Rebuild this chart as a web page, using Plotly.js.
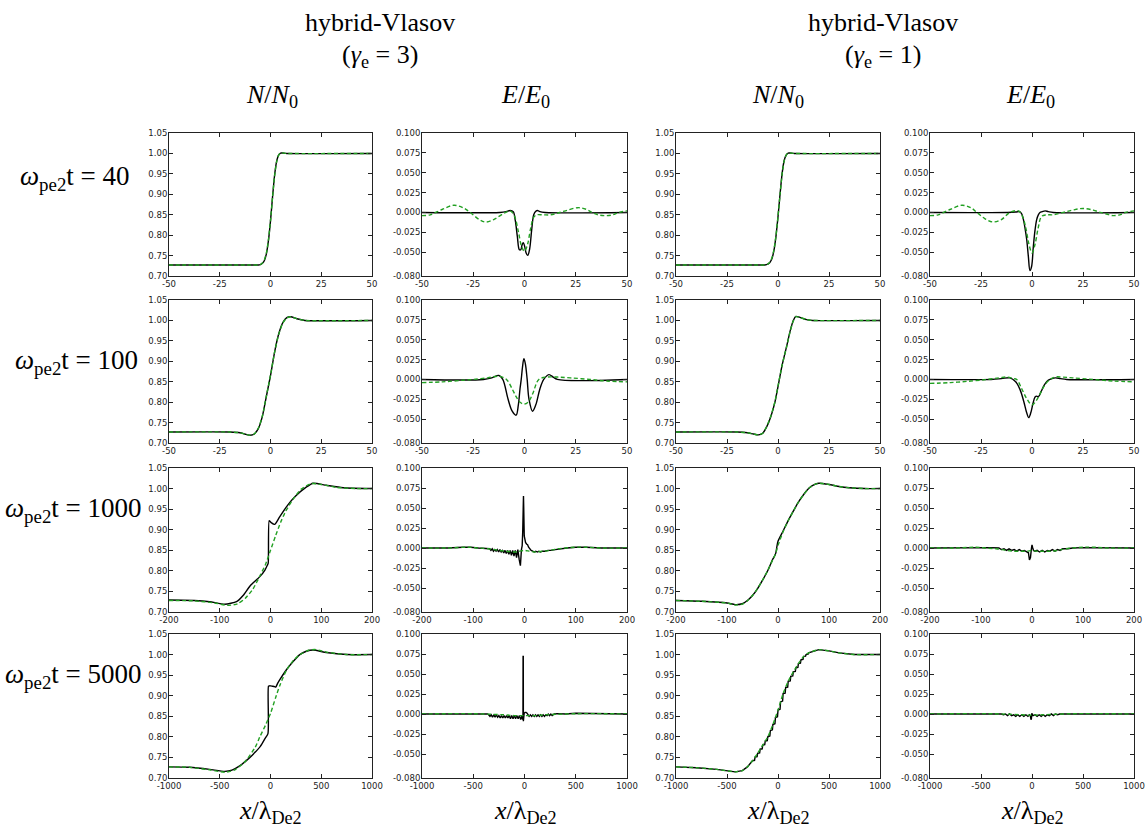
<!DOCTYPE html>
<html><head><meta charset="utf-8">
<script src="https://cdn.plot.ly/plotly-3.0.1.min.js"></script>
<style>html,body{margin:0;padding:0;background:#fff}#chart{width:1148px;height:832px}</style>
</head><body><div id="chart"></div>
<script>
// ---------------- tick labels ----------------
const nTickVals = [0.70,0.75,0.80,0.85,0.90,0.95,1.00,1.05];
const nTickText = ["0.70","0.75","0.80","0.85","0.90","0.95","1.00","1.05"];
const eTickVals = [-0.08,-0.05,-0.025,0,0.025,0.05,0.075,0.1];
const eTickText = ["-0.080","-0.050","-0.025","0.000","0.025","0.050","0.075","0.100"];
const xTickVals50 = [-50,-25,0,25,50];
const xTickText50 = ["-50","-25","0","25","50"];
const xTickVals200 = [-200,-100,0,100,200];
const xTickText200 = ["-200","-100","0","100","200"];
const xTickVals1000 = [-1000,-500,0,500,1000];
const xTickText1000 = ["-1000","-500","0","500","1000"];

const rowLabels = ["40","100","1000","5000"];
const colGammas = ["3","1"];

// ---------------- gamma_e = 3 ----------------
// t = 40, N
const nG3T40x   = [-50,-10,-6,-5,-4,-3,-2,-1,0,1,2,3,4,5,6,8,50];
const nG3T40sim = [0.727,0.727,0.727,0.728,0.731,0.738,0.755,0.787,0.835,0.893,0.946,0.980,0.996,1.001,1.001,1.000,1.000];
const nG3T40flu = [0.727,0.727,0.727,0.728,0.732,0.740,0.757,0.789,0.836,0.892,0.944,0.979,0.996,1.001,1.001,1.000,1.000];
// t = 40, E
const eG3T40simX = [-50,-12,-9,-7,-5.5,-4.5,-3.5,-2.5,-1.8,-1.2,-0.6,0,0.8,1.6,2.5,3.5,4.5,5.5,6.3,7.5,10,50];
const eG3T40simY = [0,0,0.001,0.0025,0.001,-0.010,-0.030,-0.047,-0.047,-0.041,-0.038,-0.042,-0.051,-0.054,-0.046,-0.022,-0.003,0.0015,0.0025,0.001,0,0];
const eG3T40fluX = [-50,-46,-40,-34.5,-30,-26.5,-22,-19,-15,-10,-7,-5,-3,-1.5,0,1.5,3,4.5,6,9,12.7,16,20,26,30,33,36,39.5,43,46,50];
const eG3T40fluY = [-0.004,-0.003,0.004,0.009,0.006,0,-0.009,-0.012,-0.009,-0.001,0.002,-0.004,-0.024,-0.042,-0.049,-0.040,-0.020,-0.006,-0.003,-0.003,-0.003,-0.001,0.002,0.006,0.004,0,-0.003,-0.004,-0.003,0,0.002];
// t = 100, N
const nG3T100x   = [-50,-20,-15,-12,-10,-8,-6,-4,-2,0,2,4,6,8,10,13,17,50];
const nG3T100sim = [0.727,0.727,0.725,0.721,0.719,0.722,0.735,0.765,0.815,0.865,0.922,0.966,0.994,1.007,1.009,1.004,1.000,1.000];
const nG3T100flu = [0.727,0.727,0.725,0.721,0.719,0.722,0.736,0.766,0.816,0.866,0.922,0.965,0.993,1.006,1.009,1.004,1.000,1.000];
// t = 100, E
const eG3T100simX = [-50,-20,-16,-12.5,-10.6,-8,-6,-4.1,-3,-2.2,-1.6,-1,-0.3,0.4,1.3,2.2,3.9,5.5,7.5,9.4,11.9,14,16,50];
const eG3T100simY = [0,0,0.002,0.005,0,-0.025,-0.040,-0.045,-0.032,-0.012,0,0.015,0.026,0.020,0,-0.025,-0.040,-0.032,-0.012,0,0.006,0.003,0,0];
const eG3T100fluX = [-50,-40,-30,-25,-18,-12.5,-8.8,-6,-4,-2,0,2,4,7,11,16,22.4,32,40,50];
const eG3T100fluY = [-0.004,-0.003,-0.001,0,0.002,0.004,0,-0.012,-0.022,-0.029,-0.031,-0.028,-0.018,0,0.003,0.003,0.002,0,-0.002,-0.003];
// t = 1000, N
const nG3T1000simX = [-200,-150,-120,-90,-67,-54,-40,-21,-11,-6.5,-4.6,-2.6,0.7,8.5,18,31,48,71,84,110,143,200];
const nG3T1000simY = [0.729,0.728,0.725,0.719,0.725,0.740,0.764,0.786,0.802,0.813,0.818,0.922,0.918,0.913,0.931,0.955,0.980,1.004,1.013,1.008,1.002,1.000];
const nG3T1000fluX = [-200,-150,-110,-85,-65,-50,-35,-20,-10,0,10,20,30,45,60,80,100,130,170,200];
const nG3T1000fluY = [0.728,0.727,0.722,0.716,0.720,0.733,0.755,0.790,0.815,0.850,0.885,0.918,0.945,0.975,0.998,1.012,1.010,1.003,1.000,1.000];
// t = 1000, E
const eG3T1000simX = [-200,-150,-120,-105,-90,-75,-68,-65.5,-63,-60.5,-58,-55.5,-53,-50.5,-48,-45.5,-43,-40.5,-38,-35.5,-33,-30.5,-28,-25.5,-23,-20.5,-18,-15.5,-13,-10.5,-8,-6,-4.5,-3.5,-2.5,-2,-1.5,-0.5,0.5,2,4,6,8,10,13,16,19,22,25,28,31,35,40,46,51,60,70,83,100,120,150,200];
const eG3T1000simY = [0,0,0.001,0.001,0,-0.001,-0.001,-0.003,-0.001,-0.004,-0.002,-0.004,-0.002,-0.005,-0.002,-0.005,-0.003,-0.006,-0.003,-0.007,-0.003,-0.008,-0.003,-0.009,-0.003,-0.010,-0.003,-0.012,-0.002,-0.014,-0.022,-0.002,0.003,0.020,0.060,0.065,0.050,0.015,0.009,0.007,0.005,0.004,0.001,-0.001,-0.003,-0.004,-0.005,-0.004,-0.005,-0.004,-0.005,-0.004,-0.004,-0.003,-0.003,-0.002,-0.001,0,0.001,0.001,0,0];
const eG3T1000fluX = [-200,-150,-110,-90,-70,-50,-35,-20,-10,0,10,20,35,50,65,80,100,120,150,200];
const eG3T1000fluY = [0,0,0.001,0,-0.001,-0.003,-0.004,-0.005,-0.004,-0.003,-0.004,-0.005,-0.004,-0.003,-0.001,0,0.001,0.001,0,0];
// t = 5000, N
const nG3T5000simX = [-1000,-800,-600,-450,-380,-300,-230,-170,-100,-56,-25,-20,-10,0,20,40,52,70,92,157,223,289,354,420,550,750,1000];
const nG3T5000simY = [0.727,0.726,0.721,0.716,0.719,0.730,0.744,0.758,0.777,0.795,0.808,0.923,0.924,0.924,0.923,0.922,0.921,0.930,0.939,0.963,0.983,1.000,1.008,1.011,1.005,1.000,1.000];
const nG3T5000fluX = [-1000,-800,-600,-450,-350,-250,-150,-105,-50,0,50,92,157,223,290,380,450,550,750,1000];
const nG3T5000fluY = [0.727,0.726,0.720,0.714,0.720,0.740,0.775,0.800,0.828,0.857,0.895,0.925,0.962,0.985,1.000,1.011,1.012,1.006,1.000,1.000];
// t = 5000, E
const eG3T5000simX = [-1000,-500,-400,-360,-350,-337,-325,-312,-300,-287,-275,-262,-250,-237,-225,-212,-200,-187,-175,-162,-150,-137,-125,-112,-100,-87,-75,-62,-50,-37,-25,-18,-15,-14,-12,-11,-8,-3,5,15,25,35,45,57,70,82,95,107,120,132,145,157,170,182,195,207,220,232,245,257,270,290,320,400,500,1000];
const eG3T5000simY = [0,0,0.0005,0,-0.001,-0.003,-0.001,-0.004,-0.001,-0.004,-0.001,-0.004,-0.002,-0.005,-0.002,-0.005,-0.002,-0.005,-0.002,-0.005,-0.002,-0.006,-0.002,-0.006,-0.002,-0.006,-0.002,-0.006,-0.002,-0.007,-0.002,-0.007,-0.004,0.072,0.072,-0.009,-0.004,0.001,0.002,0.002,0.001,-0.001,-0.003,-0.001,-0.003,-0.001,-0.003,-0.001,-0.003,-0.001,-0.003,-0.001,-0.003,-0.001,-0.003,-0.001,-0.002,0,-0.002,0,-0.002,0,0.0005,0,0.001,0];
const eG3T5000fluX = [-1000,-600,-400,-200,-100,0,100,200,400,600,1000];
const eG3T5000fluY = [0,0.0005,0,-0.001,-0.002,-0.002,-0.002,-0.001,0,0.0005,0];

// ---------------- gamma_e = 1 ----------------
// t = 40, N
const nG1T40x   = [-50,-10,-6.5,-5,-4,-3,-2,-1,0,1,2,3,4,5,6,8,50];
const nG1T40sim = [0.727,0.727,0.727,0.729,0.733,0.742,0.762,0.797,0.845,0.900,0.950,0.982,0.996,1.001,1.001,1.000,1.000];
const nG1T40flu = [0.727,0.727,0.727,0.729,0.734,0.744,0.764,0.798,0.846,0.899,0.948,0.981,0.996,1.001,1.001,1.000,1.000];
// t = 40, E
const eG1T40simX = [-50,-12,-8,-6,-5,-4.2,-3.4,-2.6,-1.8,-1,-0.2,0.65,1.5,2.3,3.1,3.9,5,6.4,8,10.4,50];
const eG1T40simY = [0,0,0.0005,0.001,-0.002,-0.009,-0.020,-0.034,-0.055,-0.073,-0.068,-0.043,-0.022,-0.009,-0.003,0,0.001,0.002,0.001,0,0];
const eG1T40fluX = [-50,-46,-40,-34.4,-30,-27,-23,-19.2,-15,-10.8,-6.7,-4.5,-3,-1.5,0,1.5,3,4.7,7,10.4,15.3,20,25,30,33.4,36.5,39.7,43,46,50];
const eG1T40fluY = [-0.004,-0.003,0.004,0.009,0.006,0,-0.008,-0.012,-0.009,0,0.002,-0.006,-0.020,-0.040,-0.051,-0.040,-0.020,-0.005,-0.003,-0.003,0,0.003,0.005,0.003,0,-0.002,-0.004,-0.003,0,0.002];
// t = 100, N
const nG1T100x   = [-50,-20,-15,-12,-9.6,-7.5,-5.5,-3.5,-1.5,0,2,4.2,6,7.5,8.8,11,14,17,50];
const nG1T100sim = [0.727,0.727,0.725,0.722,0.720,0.724,0.740,0.765,0.800,0.838,0.890,0.936,0.975,1.000,1.010,1.007,1.002,1.000,1.000];
const nG1T100flu = [0.727,0.727,0.725,0.722,0.720,0.724,0.741,0.766,0.801,0.839,0.890,0.935,0.974,0.999,1.009,1.007,1.002,1.000,1.000];
// t = 100, E
const eG1T100simX = [-50,-20,-15,-10.8,-8,-5.9,-4,-2.6,-1.6,-0.6,0.5,1.5,2.3,3.1,4.5,6,7.5,8.8,11.3,14,17,50];
const eG1T100simY = [0,0,0.001,0.002,-0.003,-0.0125,-0.028,-0.042,-0.048,-0.042,-0.030,-0.022,-0.021,-0.022,-0.015,-0.007,-0.002,0,0.002,0.001,0,0];
const eG1T100fluX = [-50,-40,-30,-22,-16,-12.3,-9,-7.5,-5,-2.6,0,2,4,6,8.8,11.3,15,20,30,40,50];
const eG1T100fluY = [-0.005,-0.004,-0.002,0,0.002,0.003,0.001,0,-0.012,-0.024,-0.032,-0.027,-0.018,-0.008,0,0.003,0.003,0.002,0,-0.002,-0.003];
// t = 1000, N
const nG1T1000x   = [-200,-150,-100,-84,-70,-60,-50,-40,-30,-20,-10,-6,-4,-2,0,10,20,30,40,50,60,70,80,100,120,140,170,200];
const nG1T1000sim = [0.728,0.726,0.722,0.718,0.720,0.728,0.740,0.757,0.778,0.801,0.829,0.838,0.845,0.860,0.872,0.897,0.922,0.945,0.967,0.985,1.000,1.009,1.013,1.010,1.005,1.002,1.000,1.000];
const nG1T1000flu = [0.728,0.726,0.722,0.717,0.719,0.727,0.740,0.757,0.778,0.801,0.828,0.838,0.845,0.853,0.862,0.895,0.922,0.945,0.967,0.985,1.000,1.009,1.013,1.010,1.005,1.002,1.000,1.000];
// t = 1000, E
const eG1T1000simX = [-200,-120,-100,-80,-65,-60,-55,-50,-45,-40,-35,-30,-25,-20,-15,-10,-7,-5,-3,-1,0,1.5,3,6,10,15,20,25,30,35,40,45,50,55,60,70,80,100,130,200];
const eG1T1000simY = [0,0.0005,0.001,0.0005,0,-0.002,-0.001,-0.003,-0.001,-0.003,-0.002,-0.004,-0.002,-0.004,-0.003,-0.005,-0.006,-0.015,-0.012,0,0.004,0,-0.003,-0.004,-0.003,-0.005,-0.003,-0.005,-0.003,-0.004,-0.002,-0.004,-0.002,-0.003,-0.001,-0.001,0,0.0005,0.0005,0];
const eG1T1000fluX = [-200,-150,-110,-90,-70,-50,-35,-20,-10,0,10,20,35,50,65,80,100,120,150,200];
const eG1T1000fluY = [0,0,0.001,0,-0.001,-0.003,-0.004,-0.004,-0.004,-0.003,-0.004,-0.004,-0.004,-0.003,-0.001,0,0.001,0.001,0,0];
// t = 5000, N (stair-stepped simulation)
const nG1T5000simX = [-1000,-800,-600,-420,-350,-300,-250,-230,-225,-205,-200,-180,-175,-155,-150,-130,-125,-105,-100,-80,-75,-55,-50,-30,-25,-5,0,20,25,45,50,70,75,95,100,120,125,145,150,170,175,195,200,220,225,245,250,270,275,295,300,400,500,600,750,1000];
const nG1T5000simY = [0.727,0.725,0.721,0.715,0.718,0.727,0.742,0.743,0.751,0.752,0.760,0.761,0.770,0.771,0.780,0.781,0.790,0.791,0.800,0.802,0.815,0.817,0.830,0.832,0.847,0.849,0.865,0.867,0.885,0.887,0.905,0.906,0.920,0.921,0.935,0.936,0.947,0.948,0.958,0.959,0.968,0.969,0.978,0.979,0.987,0.988,0.995,0.996,1.000,1.001,1.004,1.012,1.009,1.004,1.000,1.000];
const nG1T5000fluX = [-1000,-800,-600,-420,-350,-300,-250,-200,-150,-100,-50,0,50,100,150,200,250,300,400,500,600,750,1000];
const nG1T5000fluY = [0.727,0.725,0.721,0.715,0.718,0.727,0.742,0.760,0.780,0.800,0.830,0.865,0.905,0.935,0.958,0.978,0.995,1.004,1.012,1.009,1.004,1.000,1.000];
// t = 5000, E
const eG1T5000simX = [-1000,-500,-350,-300,-280,-260,-240,-220,-200,-180,-160,-140,-120,-100,-80,-60,-40,-25,-15,-10,-6,-2,10,30,50,70,90,110,130,150,170,190,210,230,250,270,300,400,1000];
const eG1T5000simY = [0,0,0.0005,0,-0.001,0,-0.002,0,-0.002,-0.001,-0.003,-0.001,-0.003,-0.001,-0.003,-0.001,-0.003,-0.001,-0.003,-0.007,-0.006,0.001,-0.002,-0.001,-0.003,-0.001,-0.003,-0.001,-0.003,-0.001,-0.002,0,-0.002,0,-0.001,0,0,0.0005,0];
const eG1T5000fluX = [-1000,-500,-300,-100,0,100,300,500,1000];
const eG1T5000fluY = [0,0.0005,0,-0.001,-0.0015,-0.001,0,0.0005,0];

// ---------------- panel assembly ----------------
const X50 = {r:[-50,50], v:xTickVals50, t:xTickText50};
const X200 = {r:[-200,200], v:xTickVals200, t:xTickText200};
const X1000 = {r:[-1000,1000], v:xTickVals1000, t:xTickText1000};

const panels = [
  // row 1
  {row:0,col:0,k:'N',X:X50,sx:nG3T40x,sy:nG3T40sim,fx:nG3T40x,fy:nG3T40flu,ss:'spline',fs:'spline'},
  {row:0,col:1,k:'E',X:X50,sx:eG3T40simX,sy:eG3T40simY,fx:eG3T40fluX,fy:eG3T40fluY,ss:'spline',fs:'spline'},
  {row:0,col:2,k:'N',X:X50,sx:nG1T40x,sy:nG1T40sim,fx:nG1T40x,fy:nG1T40flu,ss:'spline',fs:'spline'},
  {row:0,col:3,k:'E',X:X50,sx:eG1T40simX,sy:eG1T40simY,fx:eG1T40fluX,fy:eG1T40fluY,ss:'spline',fs:'spline'},
  // row 2
  {row:1,col:0,k:'N',X:X50,sx:nG3T100x,sy:nG3T100sim,fx:nG3T100x,fy:nG3T100flu,ss:'spline',fs:'spline'},
  {row:1,col:1,k:'E',X:X50,sx:eG3T100simX,sy:eG3T100simY,fx:eG3T100fluX,fy:eG3T100fluY,ss:'spline',fs:'spline'},
  {row:1,col:2,k:'N',X:X50,sx:nG1T100x,sy:nG1T100sim,fx:nG1T100x,fy:nG1T100flu,ss:'spline',fs:'spline'},
  {row:1,col:3,k:'E',X:X50,sx:eG1T100simX,sy:eG1T100simY,fx:eG1T100fluX,fy:eG1T100fluY,ss:'spline',fs:'spline'},
  // row 3
  {row:2,col:0,k:'N',X:X200,sx:nG3T1000simX,sy:nG3T1000simY,fx:nG3T1000fluX,fy:nG3T1000fluY,ss:'spline',fs:'spline'},
  {row:2,col:1,k:'E',X:X200,sx:eG3T1000simX,sy:eG3T1000simY,fx:eG3T1000fluX,fy:eG3T1000fluY,ss:'linear',fs:'spline'},
  {row:2,col:2,k:'N',X:X200,sx:nG1T1000x,sy:nG1T1000sim,fx:nG1T1000x,fy:nG1T1000flu,ss:'spline',fs:'spline'},
  {row:2,col:3,k:'E',X:X200,sx:eG1T1000simX,sy:eG1T1000simY,fx:eG1T1000fluX,fy:eG1T1000fluY,ss:'linear',fs:'spline'},
  // row 4
  {row:3,col:0,k:'N',X:X1000,sx:nG3T5000simX,sy:nG3T5000simY,fx:nG3T5000fluX,fy:nG3T5000fluY,ss:'spline',fs:'spline'},
  {row:3,col:1,k:'E',X:X1000,sx:eG3T5000simX,sy:eG3T5000simY,fx:eG3T5000fluX,fy:eG3T5000fluY,ss:'linear',fs:'spline'},
  {row:3,col:2,k:'N',X:X1000,sx:nG1T5000simX,sy:nG1T5000simY,fx:nG1T5000fluX,fy:nG1T5000fluY,ss:'linear',fs:'spline'},
  {row:3,col:3,k:'E',X:X1000,sx:eG1T5000simX,sy:eG1T5000simY,fx:eG1T5000fluX,fy:eG1T5000fluY,ss:'linear',fs:'spline'}
];

const W = 1148, H = 832;
const colPx = [[169,372],[422,627],[676,880],[930,1134]];
const rowPx = [[133,276],[300,443],[468,612],[634,778]];
const px = v => v / W;
const py = v => 1 - v / H;

const traces = [];
const layout = {
  width: W, height: H,
  margin: {l:0, r:0, t:0, b:0},
  paper_bgcolor: '#fff', plot_bgcolor: '#fff',
  showlegend: false,
  font: {family: 'DejaVu Sans', size: 8, color: '#111'},
  annotations: []
};

const GREEN = '#22a022';
panels.forEach((p, i) => {
  const n = i + 1;
  const xa = 'x' + n, ya = 'y' + n;
  const sm = p.k === 'N' ? 0.6 : 1.0;
  traces.push({x:p.sx, y:p.sy, xaxis:xa, yaxis:ya, type:'scatter', mode:'lines',
    line:{color:'#000', width:1.4, shape:p.ss, smoothing:sm}, hoverinfo:'skip'});
  traces.push({x:p.fx, y:p.fy, xaxis:xa, yaxis:ya, type:'scatter', mode:'lines',
    line:{color:GREEN, width:1.4, dash:'4px,2.5px', shape:p.fs, smoothing:sm}, hoverinfo:'skip'});
  const common = {showgrid:false, zeroline:false, showline:true, linecolor:'#222', linewidth:1,
    mirror:'ticks', ticks:'inside', ticklen:4, tickwidth:1, tickcolor:'#222',
    tickfont:{family:'DejaVu Sans', size:8.5, color:'#222'}, tickmode:'array', fixedrange:true};
  layout['xaxis' + n] = Object.assign({}, common, {
    domain:[px(colPx[p.col][0]), px(colPx[p.col][1])], anchor:ya,
    range:p.X.r, tickvals:p.X.v, ticktext:p.X.t});
  layout['yaxis' + n] = Object.assign({}, common, {
    domain:[py(rowPx[p.row][1]), py(rowPx[p.row][0])], anchor:xa,
    range: p.k === 'N' ? [0.70,1.05] : [-0.08,0.10],
    tickvals: p.k === 'N' ? nTickVals : eTickVals,
    ticktext: p.k === 'N' ? nTickText : eTickText, ticklabelstandoff:-1});
});

const serif = '"Liberation Serif", "Times New Roman", Times, "DejaVu Serif", serif';
function ann(text, x, y, size, extra) {
  layout.annotations.push(Object.assign({text:text, xref:'paper', yref:'paper', x:px(x), y:py(y),
    xanchor:'center', yanchor:'middle', showarrow:false,
    font:{family:serif, size:size, color:'#000'}}, extra || {}));
}
const groupCenters = [380, 883];
colGammas.forEach((g, j) => {
  ann('hybrid-Vlasov', groupCenters[j], 22, 26);
  ann('(<i>γ</i><sub>e</sub> = ' + g + ')', groupCenters[j], 56, 26);
});
[272, 778].forEach(cx => ann('<i>N</i>/<i>N</i><sub>0</sub>', cx, 96, 26));
[525, 1030].forEach(cx => ann('<i>E</i>/<i>E</i><sub>0</sub>', cx, 96, 26));
[270, 525, 778, 1032].forEach(cx => ann('<i>x</i>/λ<sub>De2</sub>', cx, 812, 26));
const rowLabelY = [178, 362, 510, 676];
const rowLabelX = [75, 76, 73, 73];
rowLabels.forEach((t, r) => ann('<i>ω</i><sub>pe2</sub>t = ' + t, rowLabelX[r], rowLabelY[r], 27));

Plotly.newPlot('chart', traces, layout, {staticPlot:true, displayModeBar:false});
</script>
</body></html>
